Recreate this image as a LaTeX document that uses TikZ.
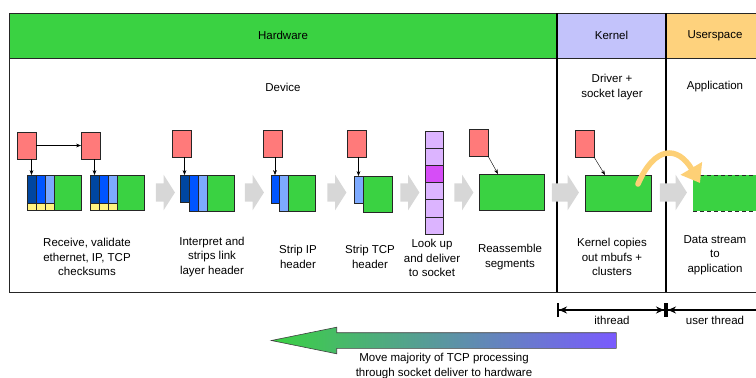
\documentclass[tikz,border=0pt]{standalone}
\usepackage{fontspec}
\setmainfont{Liberation Sans}
\usetikzlibrary{positioning, arrows.meta, shapes.arrows}
\definecolor{hwgreen}{RGB}{58,210,66}
\definecolor{kernbg}{RGB}{195,195,251}
\definecolor{userbg}{RGB}{254,210,125}
\definecolor{hdrred}{RGB}{255,122,122}
\definecolor{darkblue}{RGB}{0,70,160}
\definecolor{midblue}{RGB}{0,85,255}
\definecolor{paleblue}{RGB}{125,170,255}
\definecolor{chkyellow}{RGB}{255,243,128}
\definecolor{sockpurple}{RGB}{220,180,255}
\definecolor{sockpink}{RGB}{214,77,247}
\definecolor{flowgray}{RGB}{215,215,215}
\definecolor{copyorange}{RGB}{253,208,118}
\definecolor{movepurple}{RGB}{122,90,255}

\begin{document}
\begin{tikzpicture}[
    x=1pt, y=-1pt,
    every node/.style={font=\fontsize{11.5}{14.3}\selectfont, align=center},
    box/.style={draw=black!85, line width=.8pt, inner sep=0pt, outer sep=0pt, anchor=north west},
    hdr/.style={box, fill=hdrred, minimum width=19pt, minimum height=27pt},
    seg/.style={box, minimum width=9pt, minimum height=28pt},
    chk/.style={box, fill=chkyellow, minimum width=9pt, minimum height=7pt},
    payload/.style={box, fill=hwgreen, minimum height=36pt},
    flow/.style={single arrow, fill=flowgray, inner xsep=0pt, inner ysep=9pt,
        single arrow head extend=8.5pt, single arrow tip angle=115},
    offload/.style={single arrow, shape border rotate=180, draw=black!75, line width=.6pt,
        left color=hwgreen, right color=movepurple, inner xsep=0pt, inner ysep=7.5pt,
        minimum height=345pt, single arrow head extend=5.5pt, single arrow tip angle=23},
    >=Stealth
]
\useasboundingbox (0,0) rectangle (756,378);
\clip (0,0) rectangle (756,378);

% header band and frame
\node[box, fill=hwgreen, minimum width=548pt, minimum height=45pt] (hw) at (9,13) {Hardware};
\node[box, fill=kernbg, minimum width=109pt, minimum height=45pt] (kern) at (557,13) {Kernel};
\node[box, fill=userbg, minimum width=98pt, minimum height=45pt] (user) at (666,13) {Userspace};
\coordinate (base) at (9,292);
\draw[draw=black!85, line width=.8pt] (hw.south west) rectangle (800,292);
\draw[line width=2pt] (kern.north west) -- (kern.north west |- base);
\draw[line width=2pt] (user.north west) -- (user.north west |- base);

\node (device) at (283,87) {Device};
\node (driver) at (612,87) {Driver +\\socket layer};
\node (app) at (715,87) {Application};

% receive, validate
\node[hdr] (r1) at (17,132) {};
\node[hdr] (r2) at (81,132) {};
\node[seg, fill=darkblue] (s1a) at (27,175) {};
\node[seg, fill=midblue] (s1b) at (s1a.north east) {};
\node[seg, fill=paleblue] (s1c) at (s1b.north east) {};
\node[chk] (c1a) at (s1a.south west) {};
\node[chk] (c1b) at (c1a.north east) {};
\node[chk] (c1c) at (c1b.north east) {};
\node[payload, minimum width=27pt, minimum height=35pt] (g1) at (s1c.north east) {};
\node[seg, fill=darkblue] (s2a) at (90,175) {};
\node[seg, fill=midblue] (s2b) at (s2a.north east) {};
\node[seg, fill=paleblue] (s2c) at (s2b.north east) {};
\node[chk] (c2a) at (s2a.south west) {};
\node[chk] (c2b) at (c2a.north east) {};
\node[chk] (c2c) at (c2b.north east) {};
\node[payload, minimum width=27pt, minimum height=35pt] (g2) at (s2c.north east) {};
\draw[->] (r1) -- (r2);
\draw[->] (r1.south -| s1a.north) -- (s1a.north);
\draw[->] (r2.south -| s2a.north) -- (s2a.north);

% strip link layer
\node[hdr] (r3) at (172,130) {};
\node[seg, fill=darkblue, minimum height=27pt] (s3a) at (180,175) {};
\node[seg, fill=midblue, minimum height=36pt] (s3b) at (s3a.north east) {};
\node[seg, fill=paleblue, minimum height=36pt] (s3c) at (s3b.north east) {};
\node[payload, minimum width=27pt] (g3) at (s3c.north east) {};
\draw[->] (r3.south -| s3a.north) -- (s3a.north);

% strip IP
\node[hdr] (r4) at (263,130) {};
\node[seg, fill=midblue, minimum width=8pt] (s4a) at (271,175) {};
\node[seg, fill=paleblue, minimum height=36pt] (s4b) at (s4a.north east) {};
\node[payload, minimum width=27pt] (g4) at (s4b.north east) {};
\draw[->] (r4.south -| s4a.north) -- (s4a.north);

% strip TCP
\node[hdr] (r5) at (347,130) {};
\node[seg, fill=paleblue, minimum height=27pt] (s5a) at (354,176) {};
\node[payload, minimum width=29pt] (g5) at (s5a.north east) {};
\draw[->] (r5.south -| s5a.north) -- (s5a.north);

% socket lookup
\foreach \i/\c in {0/sockpurple,1/sockpurple,2/sockpink,3/sockpurple,4/sockpurple,5/sockpurple}
    \node[box, fill=\c, minimum width=18pt, minimum height=17.2pt] (k\i) at (425,{131+17.2*\i}) {};

% reassemble
\node[hdr] (r6) at (469,129) {};
\node[payload, minimum width=65pt] (g6) at (479,174) {};
\draw[->] (r6.south east) -- ([xshift=19pt]g6.north west);

% kernel copy
\node[hdr] (r7) at (575,130) {};
\node[payload, minimum width=66pt] (g7) at (585,175) {};
\draw[->] (r7.south east) -- ([xshift=20pt]g7.north west);

% data stream
\node[payload, draw=none, minimum width=70pt] (g8) at (693,175) {};
\draw[black!85, line width=.8pt, dash pattern=on 4pt off 3pt] (g8.north west) -- (g8.north east);
\draw[black!85, line width=.8pt, dash pattern=on 4pt off 3pt] (g8.south west) -- (g8.south east);

% flow arrows
\node[flow, minimum height=19pt] (f1) at (162.5,192.5) {};
\node[flow, minimum height=19pt] (f2) at (251.5,192.5) {};
\node[flow, minimum height=19pt] (f3) at (334,192.5) {};
\node[flow, minimum height=19pt] (f4) at (407,192.5) {};
\node[flow, minimum height=19pt] (f5) at (461,192.5) {};
\node[flow, minimum height=27pt] (f6) at (562.5,192.5) {};
\node[flow, minimum height=27pt] (f7) at (670.5,192.5) {};

\draw[copyorange, line width=5.5pt, line cap=round, -{Triangle[length=17pt,width=24pt]}]
    ([xshift=-13pt,yshift=9pt]g7.east) .. controls (655,145) and (678,146) .. ([xshift=7pt,yshift=-8pt]g8.north west);

% step labels
\node (t1) at (87,257) {Receive, validate\\ethernet, IP, TCP\\checksums};
\node (t2) at (212,257) {Interpret and\\strips link\\layer header};
\node (t3) at (298,257) {Strip IP\\header};
\node (t4) at (370,257) {Strip TCP\\header};
\node (t5) at (432,258) {Look up\\and deliver\\to socket};
\node (t6) at (510,257) {Reassemble\\segments};
\node (t7) at (612,257) {Kernel copies\\out mbufs +\\clusters};
\node (t8) at (715,255) {Data stream\\to\\application};

% threads
\coordinate (kt) at (557,310);
\coordinate (ut) at (666,310);
\coordinate (ue) at (800,310);
\draw[line width=1.2pt, {Bar[width=14pt,line width=2pt]Stealth[length=8pt,width=7pt]}-{Stealth[length=8pt,width=7pt]Bar[width=14pt,line width=2pt]}] (kt) -- (ut);
\draw[line width=1.2pt, {Bar[width=14pt,line width=2pt]Stealth[length=8pt,width=7pt]}-] (ut) -- (ue);
\node (ith) at (612,320) {ithread};
\node (uth) at (715,320) {user thread};

% offload arrow
\node[offload] (mv) at (463,340.5) {};
\node (mvtxt) at (444,366) {Move majority of TCP processing\\through socket deliver to hardware};
\end{tikzpicture}
\end{document}
